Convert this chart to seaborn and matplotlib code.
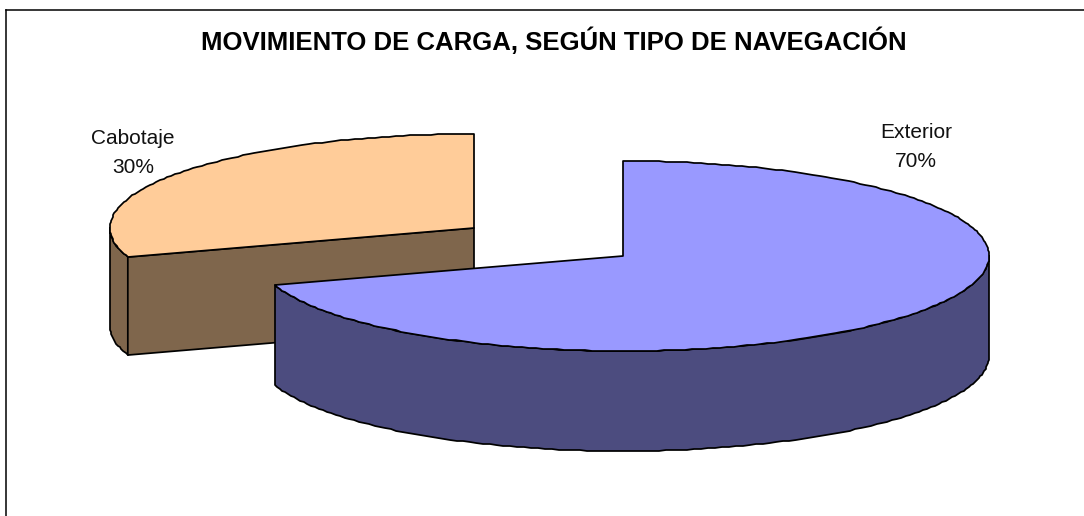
import numpy as np
import matplotlib
matplotlib.use("Agg")
import matplotlib.pyplot as plt
from matplotlib.patches import Polygon
import seaborn as sns

title = "MOVIMIENTO DE CARGA, SEGÚN TIPO DE NAVEGACIÓN"
categories = ["Exterior", "Cabotaje"]
shares = [70, 30]
top_colors = ["#9999FF", "#FFCC99"]
side_colors = ["#4C4C7F", "#7F664C"]

sns.set_theme(style="white")
plt.rcParams["font.family"] = ["Liberation Sans", "DejaVu Sans"]

W, H = 1084, 516
L, T = 6, 10
LW = 1.25
fig = plt.figure(figsize=(W / 100, H / 100), dpi=100, facecolor="white")
ax = fig.add_axes([L / W, 0, (W - L) / W, (H - T) / H])
ax.set_xlim(L, W)
ax.set_ylim(H, T)
ax.set_xticks([])
ax.set_yticks([])
for s in ["right", "bottom"]:
    ax.spines[s].set_visible(False)
for s in ["left", "top"]:
    ax.spines[s].set_visible(True)
    ax.spines[s].set_color("black")
    ax.spines[s].set_linewidth(1.1)

# projection of each exploded slice: centre x, centre y, radii, thickness
geom = {"Exterior": (623, 256, 366, 95, 100), "Cabotaje": (474, 228, 364, 94, 98)}
label_pos = {"Exterior": (916, 147), "Cabotaje": (133, 153)}


def arc(c, a0, a1):
    cx, cy, rx, ry, _ = c
    n = max(2, int(abs(a1 - a0) * 0.9))
    t = np.radians(np.linspace(a0, a1, n))
    pts = np.column_stack([cx + rx * np.cos(t), cy - ry * np.sin(t)])
    # the source rim is a slightly stepped polyline
    return np.round(pts)


def poly(pts, color, z):
    ax.add_patch(Polygon(pts, closed=True, facecolor=color, edgecolor="black",
                         lw=LW, joinstyle="round", zorder=z))


# Slices start at 12 o'clock and run clockwise
total = sum(shares)
ends = np.cumsum(shares) * 360 / total
angles = {n: (90 - (e - 360 * v / total), 90 - e)
          for n, v, e in zip(categories, shares, ends)}

z = 2
for name in ["Cabotaje", "Exterior"]:  # back slice first
    i = categories.index(name)
    c = geom[name]
    cx, cy, rx, ry, d = c
    a0, a1 = angles[name]
    lo, hi = min(a0, a1), max(a0, a1)

    # outer wall: the rim portions on the lower half of the ellipse
    for k in (-1, 0):
        s0, s1 = max(lo, 180 + 360 * k), min(hi, 360 + 360 * k)
        if s1 > s0:
            rim = arc(c, s0, s1)
            poly(np.vstack([rim, (rim + [0, d])[::-1]]), side_colors[i], z)

    # the cut wall facing the viewer
    if name == "Cabotaje":
        p = np.array([cx + rx * np.cos(np.radians(a0)), cy - ry * np.sin(np.radians(a0))])
        poly([(cx, cy), p, p + [0, d], (cx, cy + d)], side_colors[i], z)

    # top face
    poly(np.vstack([[cx, cy], arc(c, a0, a1)]), top_colors[i], z)
    z += 1

    lx, ly = label_pos[name]
    ax.text(lx, ly, f"{name}\n{shares[i]}%", ha="center", va="center", fontsize=15,
            color="#111111", linespacing=1.7, zorder=10)

ax.text(553.5, 41, title, ha="center", va="center", fontsize=18.5, fontweight="bold",
        color="black", zorder=10)

fig.savefig("out.png", dpi=100, facecolor="white")
